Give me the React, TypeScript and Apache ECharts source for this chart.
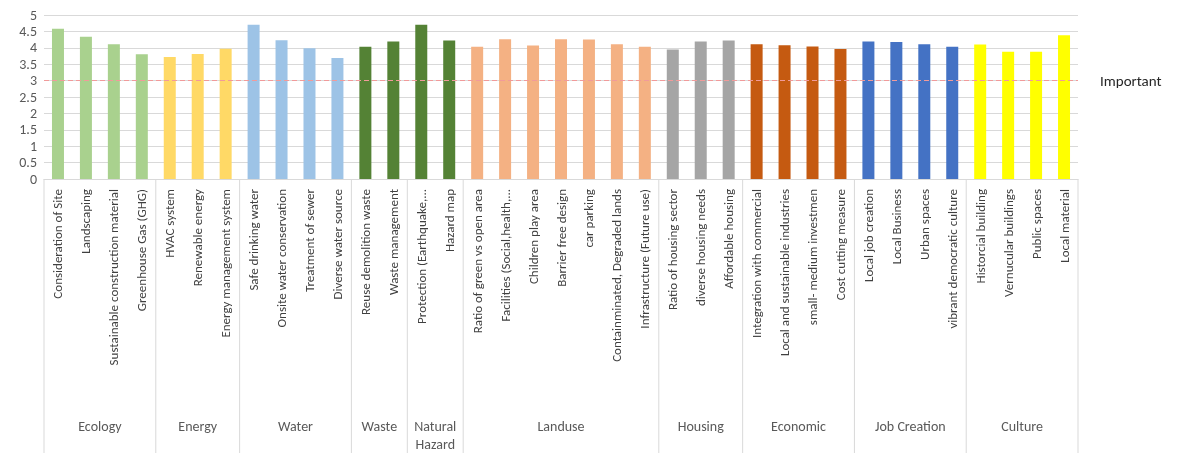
import React, { useEffect, useRef } from "react";
import * as echarts from "echarts";

const categories = [
  "Consideration of Site", "Landscaping", "Sustainable construction material", "Greenhouse Gas (GHG)",
  "HVAC system", "Renewable energy", "Energy management system",
  "Safe drinking water", "Onsite water conservation", "Treatment of sewer", "Diverse water source",
  "Reuse demolition waste", "Waste management",
  "Protection (Earthquake,...", "Hazard map",
  "Ratio of green vs open area", "Facilities (Social,health,...", "Children play area", "Barrier free design", "car parking", "Containminated, Degraded lands", "Infrastructure (Future use)",
  "Ratio of housing sector", "diverse housing needs", "Affordable housing",
  "Integration with commercial", "Local and sustainable industries", "small- medium investmen", "Cost cutting measure",
  "Local job creation", "Local Business", "Urban spaces", "vibrant democratic culture",
  "Historcial building", "Vernucular buildings", "Public spaces", "Local material",
];

const values = [
  4.58, 4.34, 4.11, 3.80,
  3.72, 3.81, 3.97,
  4.70, 4.23, 3.99, 3.69,
  4.03, 4.19,
  4.70, 4.22,
  4.03, 4.26, 4.07, 4.26, 4.25, 4.11, 4.03,
  3.95, 4.19, 4.22,
  4.11, 4.08, 4.04, 3.96,
  4.19, 4.18, 4.11, 4.03,
  4.10, 3.88, 3.88, 4.38,
];

const groups = ["Ecology", "Energy", "Water", "Waste", "Natural\nHazard", "Landuse", "Housing", "Economic", "Job Creation", "Culture"];
const groupSizes = [4, 3, 4, 2, 2, 7, 3, 4, 4, 4];
const groupColors = ["#a9d18e", "#ffd966", "#9dc3e6", "#548235", "#548235", "#f4b183", "#a5a5a5", "#c55a11", "#4472c4", "#ffff00"];

const thresholdValue = 3;
const thresholdLabel = "Important";
const yTicks = { min: 0, max: 5, interval: 0.5 };

const FONT = "Carlito, Lato, 'Open Sans', sans-serif";

export default function App() {
  const ref = useRef<HTMLDivElement>(null);
  useEffect(() => {
    if (!ref.current) return;
    const chart = echarts.init(ref.current, null, { renderer: "svg" });

    const colorOfIndex: string[] = [];
    groupSizes.forEach((n, g) => {
      for (let k = 0; k < n; k++) colorOfIndex.push(groupColors[g]);
    });

    chart.setOption({
      animation: false,
      grid: { left: 44, right: 101, top: 15, bottom: 274, containLabel: false },
      xAxis: {
        type: "category",
        data: categories,
        axisLine: { show: true, lineStyle: { color: "#d9d9d9" } },
        axisTick: { show: false },
        axisLabel: {
          interval: 0,
          rotate: 90,
          margin: 10,
          fontSize: 13,
          color: "#404040",
          fontFamily: FONT,
        },
      },
      yAxis: {
        type: "value",
        min: yTicks.min,
        max: yTicks.max,
        interval: yTicks.interval,
        axisLine: { show: false },
        axisTick: { show: false },
        axisLabel: { fontSize: 14, color: "#595959", margin: 7, fontFamily: FONT },
        splitLine: { show: true, lineStyle: { color: "#d9d9d9", width: 1 } },
      },
      series: [
        {
          type: "bar",
          barWidth: 12,
          data: values.map((v, i) => ({ value: v, itemStyle: { color: colorOfIndex[i] } })),
          markLine: {
            silent: true,
            symbol: "none",
            data: [{ yAxis: thresholdValue }],
            lineStyle: { color: "#f19a9a", type: [5, 3], width: 1 },
            label: {
              show: true,
              position: "end",
              formatter: thresholdLabel,
              color: "#262626",
              fontSize: 15,
              distance: 22,
              fontFamily: FONT,
            },
          },
        },
      ],
    });

    // group labels and separators, positioned from the category axis scale
    const p0 = chart.convertToPixel({ xAxisIndex: 0 }, 0) as number;
    const p1 = chart.convertToPixel({ xAxisIndex: 0 }, 1) as number;
    const bw = p1 - p0;
    const yAxis0 = chart.convertToPixel({ yAxisIndex: 0 }, 0) as number;
    const graphics: any[] = [];
    let start = 0;
    groupSizes.forEach((n, g) => {
      const left = p0 + (start - 0.5) * bw;
      const right = p0 + (start + n - 0.5) * bw;
      if (g === 0) {
        graphics.push({ type: "line", shape: { x1: left, y1: yAxis0, x2: left, y2: 453 }, style: { stroke: "#d9d9d9", lineWidth: 1 } });
      }
      graphics.push({ type: "line", shape: { x1: right, y1: yAxis0, x2: right, y2: 453 }, style: { stroke: "#d9d9d9", lineWidth: 1 } });
      graphics.push({
        type: "text",
        x: (left + right) / 2,
        y: 417,
        style: {
          text: groups[g],
          fill: "#595959",
          fontSize: 14,
          fontFamily: FONT,
          textAlign: "center",
          textVerticalAlign: "top",
          lineHeight: 18,
        },
      });
      start += n;
    });
    chart.setOption({ graphic: graphics });

    return () => chart.dispose();
  }, []);
  return <div ref={ref} style={{ position: "fixed", left: 0, top: 0, width: 1179, height: 453 }} />;
}
